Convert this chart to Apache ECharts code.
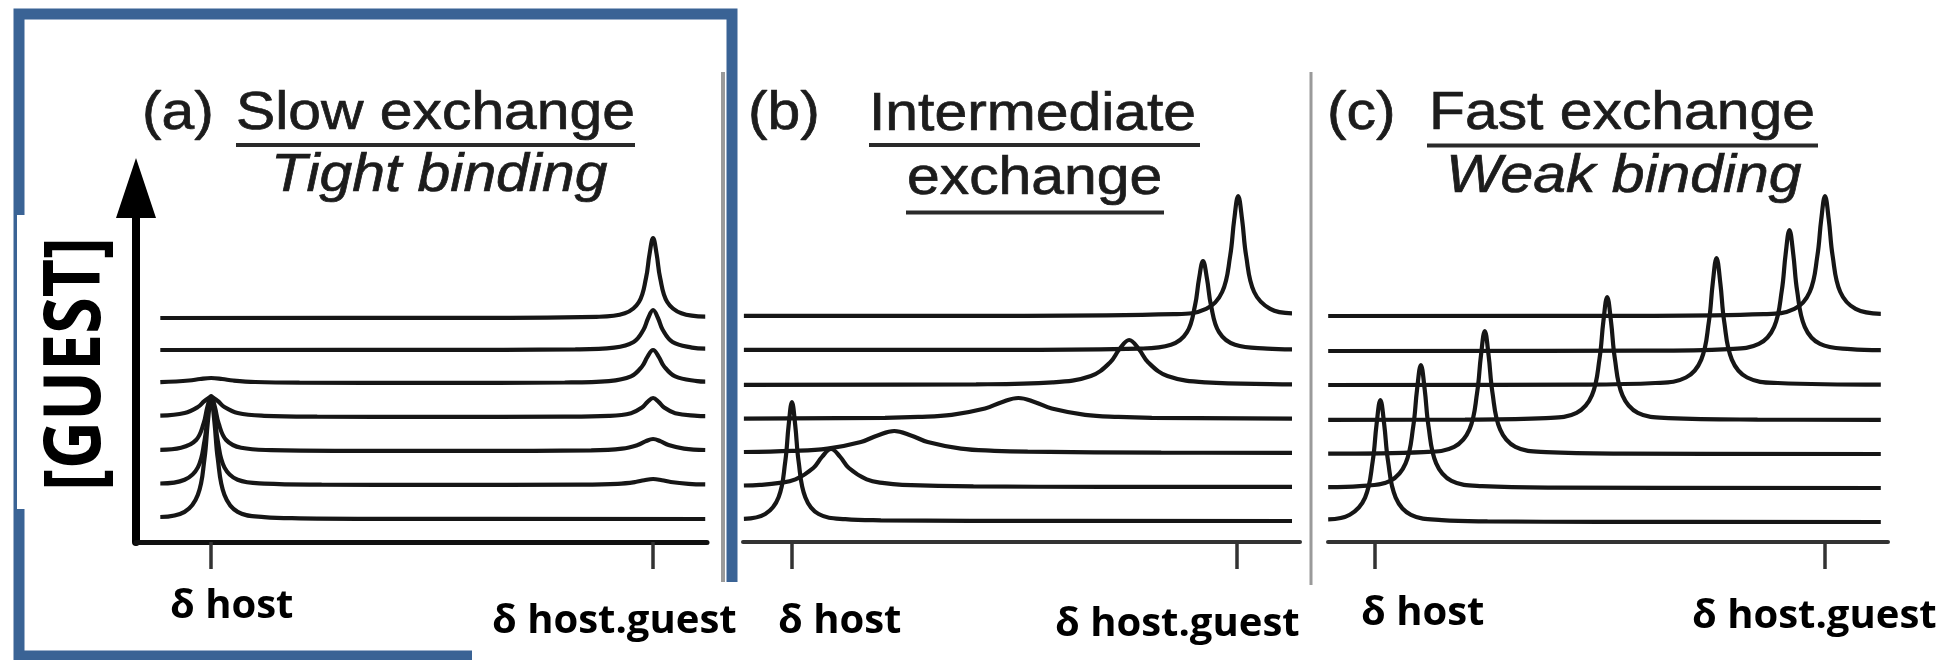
<!DOCTYPE html>
<html>
<head>
<meta charset="utf-8">
<script src="https://cdn.jsdelivr.net/npm/echarts@6/dist/echarts.min.js"></script>
<style>
html,body{margin:0;padding:0;background:#ffffff;}
#chart{width:1949px;height:660px;}
</style>
</head>
<body>
<div id="chart"></div>
<script>
// ---- tick labels and texts ----
const tickValues = [0, 100];
const tickLabels = ['δ host', 'δ host.guest'];
const yAxisName = '[GUEST]';
const panelLetters = ['(a)', '(b)', '(c)'];
const panelTitleTop = ['Slow exchange', 'Intermediate', 'Fast exchange'];
const panelTitleBottom = ['Tight binding', 'exchange', 'Weak binding'];

// ---- trace baselines (intensity offset of each spectrum, bottom to top) ----
const baselinesA = [23, 57, 91, 125, 159, 192, 224];
const baselinesB = [21, 55, 89, 123, 157, 192, 226];
const baselinesC = [20, 54, 88, 122, 157, 191, 226];

// ---- spectra: [shift (host = 0, host.guest = 100), signal above baseline] ----
// (a) slow exchange
const a1 = [[-11.5,2],[-6,7.1],[-3,24.2],[-1.5,60.5],[-0.75,96.8],[0,121],[0.75,96.8],[1.5,60.5],[3,24.2],[6,7.1],[12,1.9],[20,0.7],[40,0.17],[111.8,0]];
const a2 = [[-11.5,1.5],[-6,5.2],[-3,17.6],[-1.5,44],[-0.75,70.4],[0,88],[0.75,70.4],[1.5,44],[3,17.6],[6,5.2],[12,1.4],[25,0.4],[50,0.1],[84,0.4],[92,1.2],[96,3],[98,4.8],[100,6],[102,4.8],[104,3],[108,1.2],[111.8,0.6]];
const a3 = [[-11.5,1.2],[-6.8,3.2],[-3.4,11],[-1.7,27.5],[-0.85,44],[0,55],[0.85,44],[1.7,27.5],[3.4,11],[6.8,3.2],[13.6,0.9],[30,0.2],[60,0.1],[86,0.7],[93,2.4],[96.5,6],[98.25,9.6],[100,12],[101.75,9.6],[103.5,6],[107,2.4],[111.8,1]];
const a4 = [[-11.5,1.3],[-6,4],[-3,10],[-1.5,16],[0,20],[1.5,16],[3,10],[6,4],[12,1.2],[24,0.3],[50,0.1],[80,0.3],[90,1.1],[95,3.8],[97.5,9.5],[98.75,15.2],[100,19],[101.25,15.2],[102.5,9.5],[105,3.8],[110,1.1],[111.8,0.8]];
const a5 = [[-11.5,0.8],[-5,2.5],[-2.5,4],[0,5],[2.5,4],[5,2.5],[10,1],[20,0.3],[50,0.1],[80,0.5],[90,1.9],[95,6.6],[97.5,16.5],[98.75,26.4],[100,33],[101.25,26.4],[102.5,16.5],[105,6.6],[110,1.9],[111.8,1.4]];
const a6 = [[-11.5,0],[50,0.1],[82.4,0.6],[91.2,2.4],[95.6,8],[97.8,20],[98.9,32],[100,40],[101.1,32],[102.2,20],[104.4,8],[108.8,2.4],[111.8,1.3]];
const a7 = [[-11.5,0],[50,0.1],[87.2,1.2],[93.6,4.7],[96.8,16],[98.4,40],[99.2,64],[100,80],[100.8,64],[101.6,40],[103.2,16],[106.4,4.7],[111.8,1.4]];
// (b) intermediate exchange
const b1 = [[-10.8,2.2],[-6,7],[-3,23.8],[-1.5,59.5],[-0.75,95.2],[0,119],[0.75,95.2],[1.5,59.5],[3,23.8],[6,7],[12,1.8],[20,0.7],[40,0.17],[112.4,0]];
const b2 = [[-10.8,1.5],[-7.2,2.2],[-3.2,3.8],[0.8,7.6],[4.8,19],[6.8,30.4],[8.8,38],[10.8,30.4],[12.8,19],[16.8,7.6],[20.8,3.8],[24.8,2.2],[40.8,0.6],[70,0.16],[112.4,0.1]];
const b3 = [[-10.8,1],[0,2.1],[8,4.4],[15.5,11],[19.25,17.6],[23,22],[26.75,17.6],[30.5,11],[38,4.4],[45.5,2.2],[53,1.3],[83,0.34],[112.4,0.16]];
const b4 = [[-10.8,0.3],[20.9,1.2],[28.4,2.1],[35.9,4.2],[43.4,10.5],[47.15,16.8],[50.9,21],[54.65,16.8],[58.4,10.5],[65.9,4.2],[73.4,2.1],[80.9,1.2],[112.4,0.3]];
const b5 = [[-10.8,0.1],[41.4,0.7],[58.6,2.6],[67.2,9],[71.5,22.5],[73.65,36],[75.8,45],[77.95,36],[80.1,22.5],[84.4,9],[93,2.6],[110.2,0.7],[112.4,0.6]];
const b6 = [[-10.8,0.1],[50,0.2],[78,1.4],[85.2,5.2],[88.8,17.8],[90.6,44.5],[91.5,71.2],[92.4,89],[93.3,71.2],[94.2,44.5],[96,17.8],[99.6,5.2],[106.8,1.4],[112.4,0.7]];
const b7 = [[-10.8,0.1],[50,0.2],[85.9,1.8],[93.1,7.1],[96.7,24],[98.5,60],[99.4,96],[100.3,120],[101.2,96],[102.1,60],[103.9,24],[107.5,7.1],[112.4,2.6]];
// (c) fast exchange
const c1 = [[-10.4,2.6],[-5.6,7.2],[-2.2,24.4],[-0.5,61],[0.35,97.6],[1.2,122],[2.05,97.6],[2.9,61],[4.6,24.4],[8,7.2],[14.8,1.9],[25,0.6],[50,0.15],[112.4,0]];
const c2 = [[-10.4,0.8],[-3.4,1.9],[3.4,7.2],[6.8,24.6],[8.5,61.5],[9.35,98.4],[10.2,123],[11.05,98.4],[11.9,61.5],[13.6,24.6],[17,7.2],[23.8,1.9],[40,0.4],[112.4,0]];
const c3 = [[-10.4,0.3],[10.8,1.9],[17.6,7.2],[21,24.6],[22.7,61.5],[23.55,98.4],[24.4,123],[25.25,98.4],[26.1,61.5],[27.8,24.6],[31.2,7.2],[38,1.9],[55,0.4],[112.4,0]];
const c4 = [[-10.4,0.1],[20,0.4],[38,1.9],[44.8,7.2],[48.2,24.6],[49.9,61.5],[50.75,98.4],[51.6,123],[52.45,98.4],[53.3,61.5],[55,24.6],[58.4,7.2],[65.2,1.9],[85,0.4],[112.4,0.1]];
const c5 = [[-10.4,0],[45,0.4],[62.3,2],[69.1,7.5],[72.5,25.4],[74.2,63.5],[75.05,101.6],[75.9,127],[76.75,101.6],[77.6,63.5],[79.3,25.4],[82.7,7.5],[89.5,2],[112.4,0.3]];
const c6 = [[-10.4,0],[60,0.3],[78.5,1.9],[85.3,7.1],[88.7,24.2],[90.4,60.5],[91.25,96.8],[92.1,121],[92.95,96.8],[93.8,60.5],[95.5,24.2],[98.9,7.1],[105.7,1.9],[112.4,0.85]];
const c7 = [[-10.4,0],[60,0.2],[86.4,1.8],[93.2,7.1],[96.6,24],[98.3,60],[99.15,96],[100,120],[100.85,96],[101.7,60],[103.4,24],[106.8,7.1],[112.4,2.2]];

const panels = [
  {traces: [a1,a2,a3,a4,a5,a6,a7], bases: baselinesA},
  {traces: [b1,b2,b3,b4,b5,b6,b7], bases: baselinesB},
  {traces: [c1,c2,c3,c4,c5,c6,c7], bases: baselinesC}
];

const series = [];
panels.forEach((p, gi) => {
  p.traces.forEach((pts, ti) => {
    series.push({
      type: 'line', xAxisIndex: gi, yAxisIndex: gi,
      data: pts.map(d => [d[0], p.bases[ti] + d[1]]),
      smooth: 0.4, symbol: 'none', silent: true, z: 4,
      lineStyle: {color: '#161616', width: 4.2}
    });
  });
});

const xRanges = [[-17, 112.2], [-11, 114.2], [-10.44, 114]];
const axisLineColors = ['#111', '#333', '#333'];
const xAxis = xRanges.map((r, i) => ({
  gridIndex: i, type: 'value', min: r[0], max: r[1], z: 3,
  axisLine: {show: true, onZero: false, lineStyle: {color: axisLineColors[i], width: i === 0 ? 5 : 4}},
  axisTick: {show: true, customValues: tickValues, length: 27, lineStyle: {color: '#333', width: 3.5}},
  axisLabel: {show: false}, splitLine: {show: false}
}));
const yAxis = [0, 1, 2].map(i => ({
  gridIndex: i, type: 'value', min: 0, max: 354, show: i === 0, z: 3,
  axisLine: {show: i === 0, onZero: false, symbol: ['none', 'triangle'], symbolSize: [40, 60],
             lineStyle: {color: '#000', width: 8}},
  axisTick: {show: false}, axisLabel: {show: false}, splitLine: {show: false}
}));

const titleFont = '53px "Liberation Sans", Arial, Helvetica, sans-serif';
const italicFont = 'italic 53px "Liberation Sans", Arial, Helvetica, sans-serif';
const labelFont = 'bold 40px "Open Sans", "Noto Sans", sans-serif';
function txt(t, x, y, font, sx, fill, strokeW) {
  return {
    type: 'text', x: x, y: y, scaleX: sx || 1, z: 10, silent: true,
    style: {text: t, x: 0, y: 0, font: font, fill: fill || '#1c1c1c',
            stroke: fill || '#1c1c1c', lineWidth: strokeW || 0,
            textAlign: 'left', textVerticalAlign: 'middle', align: 'left', verticalAlign: 'middle'}
  };
}
function hline(x1, x2, y, w, c) {
  return {type: 'line', z: 9, silent: true, shape: {x1: x1, y1: y, x2: x2, y2: y}, style: {stroke: c || '#2a2a2a', lineWidth: w || 4}};
}
function vline(x, y1, y2, w, c) {
  return {type: 'line', z: 1, silent: true, shape: {x1: x, y1: y1, x2: x, y2: y2}, style: {stroke: c, lineWidth: w}};
}

const graphic = [
  // blue frame around panel (a)
  {type: 'rect', z: 1, silent: true, shape: {x: 19, y: 14, width: 713, height: 642},
   style: {fill: 'none', stroke: '#3a6395', lineWidth: 11}},
  // panel separators
  vline(723, 72, 582, 4, '#9a9a9a'),
  vline(1311, 72, 585, 3, '#9a9a9a'),
  // white label boxes
  {type: 'rect', z: 2, silent: true, shape: {x: 472, y: 582, width: 276, height: 80}, style: {fill: '#ffffff'}},
  {type: 'rect', z: 2, silent: true, shape: {x: 17, y: 215, width: 110, height: 294}, style: {fill: '#ffffff'}},
  // titles
  txt(panelLetters[0], 142, 114, titleFont, 1.11, null, 0.7),
  txt(panelTitleTop[0], 236, 114, titleFont, 1.11, null, 0.7),
  txt(panelTitleBottom[0], 271, 176.5, italicFont, 1.11, null, 0.7),
  txt(panelLetters[1], 748, 114, titleFont, 1.11, null, 0.7),
  txt(panelTitleTop[1], 869, 115, titleFont, 1.11, null, 0.7),
  txt(panelTitleBottom[1], 907, 179, titleFont, 1.11, null, 0.7),
  txt(panelLetters[2], 1327, 114, titleFont, 1.11, null, 0.7),
  txt(panelTitleTop[2], 1429, 114, titleFont, 1.11, null, 0.7),
  txt(panelTitleBottom[2], 1446, 177.5, italicFont, 1.11, null, 0.7),
  hline(236, 635, 145),
  hline(869, 1200, 145),
  hline(906, 1164, 212.5),
  hline(1427, 1818, 145.5),
  // axis labels
  txt(tickLabels[0], 170, 606.5, labelFont, 1, '#000'),
  txt(tickLabels[1], 492, 621.5, labelFont, 1, '#000'),
  txt(tickLabels[0], 778, 621.5, labelFont, 1, '#000'),
  txt(tickLabels[1], 1055, 624.5, labelFont, 1, '#000'),
  txt(tickLabels[0], 1361, 613.5, labelFont, 1, '#000'),
  txt(tickLabels[1], 1692, 616.5, labelFont, 1, '#000'),
  {type: 'text', x: 78, y: 364, rotation: Math.PI / 2, scaleX: 0.85, z: 10, silent: true,
   style: {text: yAxisName, x: 0, y: 0, font: 'bold 78px "Open Sans", "Noto Sans", sans-serif', fill: '#000',
           textAlign: 'center', textVerticalAlign: 'middle', align: 'center', verticalAlign: 'middle'}}
];

const chart = echarts.init(document.getElementById('chart'), null, {renderer: 'canvas'});
chart.setOption({
  animation: false,
  backgroundColor: '#ffffff',
  grid: [
    {left: 136, width: 571, top: 188, height: 354},
    {left: 743, width: 557, top: 188, height: 354},
    {left: 1328, width: 560, top: 188, height: 354}
  ],
  xAxis: xAxis,
  yAxis: yAxis,
  series: series,
  graphic: {elements: graphic}
});
</script>
</body>
</html>
